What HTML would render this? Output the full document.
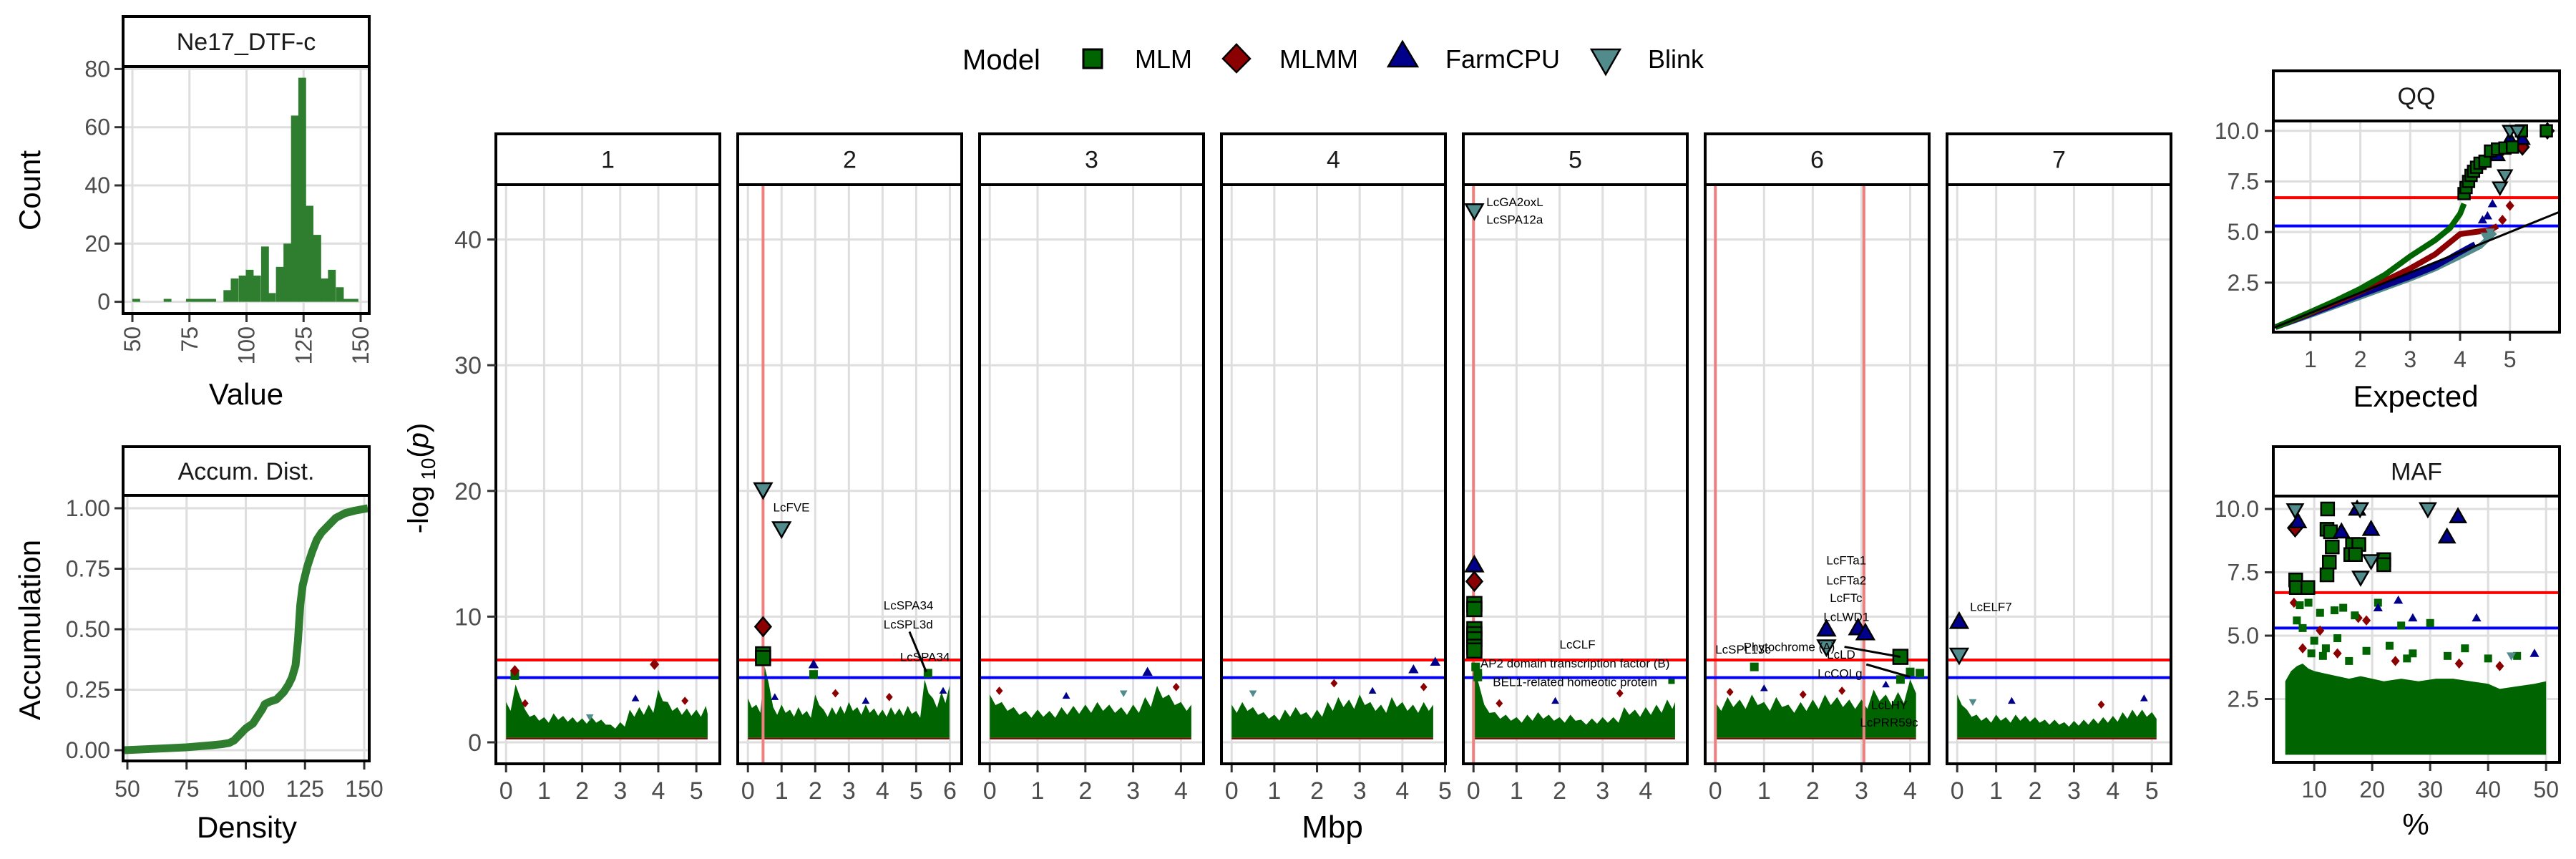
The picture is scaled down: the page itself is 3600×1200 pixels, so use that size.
<!DOCTYPE html>
<html><head><meta charset="utf-8">
<style>
html,body{margin:0;padding:0;background:#fff;}
svg{display:block;font-family:"Liberation Sans",Arial,sans-serif;}
</style></head>
<body>
<svg id="fig" xmlns="http://www.w3.org/2000/svg" width="3600" height="1200" viewBox="0 0 3600 1200">
<rect x="0" y="0" width="3600" height="1200" fill="#fff"/>
<g id="legend">
  <text x="1345" y="97" font-size="40" fill="#000">Model</text>
  <rect x="1514" y="69" width="26" height="26" fill="#006400" stroke="#000" stroke-width="3"/>
  <text x="1586" y="95" font-size="36" fill="#000">MLM</text>
  <polygon points="1728,62 1747,82 1728,101 1709,82" fill="#8B0000" stroke="#000" stroke-width="2.5"/>
  <text x="1788" y="95" font-size="36" fill="#000">MLMM</text>
  <polygon points="1960,58 1981,93 1940,93" fill="#00008B" stroke="#000" stroke-width="2.5"/>
  <text x="2020" y="95" font-size="36" fill="#000">FarmCPU</text>
  <polygon points="2224,69 2264,69 2244,104" fill="#528B8B" stroke="#000" stroke-width="2.5"/>
  <text x="2303" y="95" font-size="36" fill="#000">Blink</text>
</g>
</svg>
<script>
// ---------------- DATA ----------------
// Histogram
const histBinStarts = [50,63.7,73.5,76.75,80,83.25,89.9,93.1,96.6,99.7,102.9,106.4,109.4,112.9,116.2,119.5,122.7,125.9,129.3,132.5,135.7,139.2,142.3,145.6];
const histCounts    = [1,1,1,1,1,1,4,8,9,11,9,19,3,12,20,64,77,33,23,8,11,5,1,1];
const histBinWidth = 3.25;
const histYTicks = [0,20,40,60,80];
const histXTicks = [50,75,100,125,150];
// Accumulation
const accDensity = [48,60,75,85,90,93,95,98,100,103,105,107,108,110,113,116,118,119.5,121,122,123,124,126,128,130,132,135,138,142,146,152];
const accValues  = [0,0.005,0.012,0.02,0.025,0.03,0.04,0.07,0.09,0.11,0.14,0.17,0.19,0.2,0.21,0.24,0.27,0.3,0.35,0.45,0.6,0.68,0.76,0.82,0.87,0.9,0.93,0.96,0.98,0.99,1.0];
const accYTicks = ["0.00","0.25","0.50","0.75","1.00"];
const accXTicks = [50,75,100,125,150];
// Manhattan
const chromNames = ["1","2","3","4","5","6","7"];
const chromLen = [5.35,6.05,4.26,4.77,4.73,4.18,5.23];
const chromXTicks = [[0,1,2,3,4,5],[0,1,2,3,4,5,6],[0,1,2,3,4],[0,1,2,3,4,5],[0,1,2,3,4],[0,1,2,3,4],[0,1,2,3,4,5]];
const manYTicks = [0,10,20,30,40];
const thresholdBonf = 6.55;
const thresholdSugg = 5.15;
const qtnChr = [2,5,6,6];
const qtnPos = [0.45,0.0,0.0,3.05];
// band envelope (top of dense background cloud, every 0.25 Mbp)
const bandTop = [
 [3.2,4.6,2.6,2.2,2.0,2.3,2.1,2.0,1.9,2.0,1.8,1.4,1.6,2.6,2.8,3.0,4.2,3.2,2.8,2.7,2.6,2.9,3.6],
 [3.5,3.0,6.0,2.8,3.0,2.6,2.8,2.5,3.8,2.6,2.8,2.9,3.2,2.8,3.0,2.7,2.6,2.8,2.7,2.9,2.5,5.0,3.5,4.0,4.5],
 [3.8,3.2,2.8,2.5,2.6,2.5,2.8,2.9,3.0,3.2,3.0,2.8,3.0,3.6,4.5,3.8,3.2,3.0],
 [3.0,3.2,2.8,2.4,2.2,2.6,2.8,2.4,2.6,3.2,3.6,3.4,3.8,3.2,3.0,3.6,3.2,3.0,3.2,3.0],
 [6.0,3.0,2.4,2.2,2.0,2.2,2.4,2.2,2.0,2.2,1.8,1.9,2.0,2.0,2.8,2.6,2.8,3.0,3.4,3.2],
 [3.2,3.6,3.4,3.8,3.2,3.6,3.0,3.2,3.4,3.8,3.6,3.4,3.4,4.2,3.8,4.0,5.0],
 [3.8,2.6,2.2,2.0,2.2,2.0,2.2,2.1,2.0,1.8,1.8,1.6,1.7,1.8,1.9,2.0,2.1,2.4,2.6,2.6,2.4]
];
const bandBottom = 0.35;
// significant / highlighted markers per model
const mlmChr = [2,2,5,5,5,5,5,5,5,6,1,2,2,5,5,5,6,6,6,6];
const mlmPos = [0.45,0.45,0.02,0.02,0.02,0.02,0.02,0.02,0.02,3.8,0.23,1.95,5.35,0.05,0.1,0.1,0.8,3.8,4.0,4.2];
const mlmVal = [7.0,6.7,11.0,10.6,9.0,8.6,8.2,7.6,7.3,6.8,5.3,5.4,5.5,6.0,5.5,5.2,6.0,5.0,5.6,5.5];
const mlmmChr = [2,5,1,1];
const mlmmPos = [0.45,0.02,0.23,3.9];
const mlmmVal = [9.2,12.8,5.7,6.2];
const farmChr = [5,6,6,6,7,2,3,4,4];
const farmPos = [0.02,2.28,2.93,3.08,0.05,1.95,3.3,4.26,4.77];
const farmVal = [14.1,9.0,9.1,8.7,9.6,6.2,5.6,5.8,6.4];
const blinkChr = [2,2,5,6,7];
const blinkPos = [0.45,1.0,0.02,2.28,0.05];
const blinkVal = [20.1,17.0,42.3,7.6,6.95];
// background speckles (colored dots above the dense cloud)
const speckChr = [1,1,1,1,2,2,2,2,2,3,3,3,3,4,4,4,4,5,5,5,5,6,6,6,6,6,7,7,7,7];
const speckPos = [0.5,2.2,3.4,4.7,0.8,2.6,3.5,4.2,5.8,0.2,1.6,2.8,3.9,0.5,2.4,3.3,4.5,0.6,1.9,3.4,4.6,0.3,1.0,1.8,2.6,3.5,0.4,1.4,3.7,4.8];
const speckVal = [3.1,2.0,3.5,3.3,3.6,3.9,3.3,3.6,4.1,4.1,3.7,3.9,4.4,3.9,4.7,4.1,4.4,3.1,3.3,3.9,4.9,4.0,4.3,3.8,4.1,4.6,3.2,3.3,3.0,3.5];
const speckModel = ["mlmm","blink","farm","mlmm","farm","mlmm","farm","mlmm","farm","mlmm","farm","blink","mlmm","blink","mlmm","farm","mlmm","mlmm","farm","mlmm","mlm","mlmm","farm","mlmm","mlmm","farm","blink","farm","mlmm","farm"];
// gene annotations
const annText = ["LcFVE","LcSPA34","LcSPL3d","LcSPA34","LcGA2oxL","LcSPA12a","LcCLF","AP2 domain transcription factor (B)","BEL1-related homeotic protein","LcFTa1","LcFTa2","LcFTc","LcLWD1","LcSPL13c","Phytochrome (A)","LcLD","LcCOLg","LcLHY","LcPRR59c","LcELF7"];
const annChr  = [2,2,2,2,5,5,5,5,5,6,6,6,6,6,6,6,6,6,6,7];
const annPos  = [0.75,4.03,4.03,4.52,0.3,0.3,2.0,0.16,0.45,2.28,2.28,2.35,2.22,0.0,0.58,2.29,2.1,3.2,2.97,0.33];
const annVal  = [18.7,10.9,9.4,6.8,43.0,41.6,7.8,6.3,4.8,14.5,12.9,11.5,10.0,7.4,7.6,7.0,5.5,3.0,1.6,10.8];
// QQ
const qqMlmX = [0.3,1,1.5,2,2.5,3,3.5,3.8,4.0,4.08];
const qqMlmY = [0.3,1.05,1.6,2.2,2.9,3.8,4.6,5.2,5.9,6.4];
const qqMlmmX = [0.3,1,2,2.5,3,3.5,4,4.3,4.6,4.75];
const qqMlmmY = [0.3,1.0,2.05,2.6,3.2,3.9,4.9,5.0,5.1,5.3];
const qqFarmX = [0.3,1,2,3,3.5,4,4.3];
const qqFarmY = [0.3,0.95,1.9,2.8,3.3,4.0,4.4];
const qqBlinkX = [0.3,1,2,3,3.5,4,4.4,4.7];
const qqBlinkY = [0.3,0.9,1.8,2.7,3.2,3.8,4.3,5.0];
const qqMlmPtsX = [4.08,4.12,4.17,4.22,4.27,4.33,4.4,4.5,4.61,4.75,4.9,5.05,5.23,5.73];
const qqMlmPtsY = [6.9,7.2,7.5,7.8,8.0,8.2,8.4,8.5,9.0,9.1,9.15,9.2,10.0,10.0];
const qqMlmmPtsX = [4.85,5.0,5.25,5.75];
const qqMlmmPtsY = [5.6,6.3,9.2,10.0];
const qqFarmPtsX = [4.45,4.55,4.65,4.75,5.0,5.25];
const qqFarmPtsY = [5.6,5.8,6.4,8.8,9.6,9.6];
const qqBlinkPtsX = [4.5,4.6,4.8,4.9,5.0,5.15];
const qqBlinkPtsY = [4.8,5.0,7.2,7.8,10.0,10.0];
const qqYTicks = ["2.5","5.0","7.5","10.0"];
const qqXTicks = [1,2,3,4,5];
// MAF
const mafMlmX = [12.3,12.2,12.8,13.1,12.6,12.2,6.8,6.9,8.9,16.6,17.7,16.3,17.1,22,22,7.5,9,11,13.5,15,17,21,25,30,7,8,10,12,14,19,23,27,33,36,40,45,9.5,11.5,16,26];
const mafMlmY = [10,9.2,9.1,8.5,7.9,7.4,7.2,6.9,6.9,8.6,8.6,8.2,8.2,8.0,7.8,6.2,6.3,5.9,6.0,6.1,5.8,6.3,5.4,5.5,5.6,5.3,4.8,4.5,4.9,4.4,4.6,4.3,4.2,4.5,4.1,4.2,4.3,4.2,4.0,4.1];
const mafMlmmX = [6.7,17.6,19,6.5,11,8,14,24,35,42];
const mafMlmmY = [9.25,5.7,5.6,6.3,5.2,4.5,4.3,4.0,3.9,3.8];
const mafFarmX = [7.2,17.4,14.7,19.8,32.9,34.8,24.5,27,38,21,48];
const mafFarmY = [9.5,10,9.1,9.2,8.9,9.7,6.4,5.7,5.7,6.1,4.3];
const mafBlinkX = [6.7,17.9,19.8,18,29.6,44];
const mafBlinkY = [9.96,10,7.95,7.3,10,4.2];
const mafBandX = [5,6,7,8,9,10,12,14,16,18,20,22,25,28,31,34,37,40,42,45,48,50];
const mafBandTop = [3.2,3.6,3.8,3.9,3.7,3.6,3.5,3.4,3.3,3.4,3.3,3.2,3.3,3.2,3.3,3.3,3.2,3.1,2.9,3.0,3.1,3.2];
const mafYTicks = ["2.5","5.0","7.5","10.0"];
const mafXTicks = [10,20,30,40,50];

// ---------------- RENDER ----------------
const NS = "http://www.w3.org/2000/svg";
const svg = document.getElementById("fig");
function mk(tag, attrs, parent) {
  const el = document.createElementNS(NS, tag);
  for (const k in attrs) el.setAttribute(k, attrs[k]);
  (parent || svg).appendChild(el);
  return el;
}
const COL = {mlm:"#006400", mlmm:"#8B0000", farm:"#00008B", blink:"#528B8B"};
const GRID = "#DEDEDE", TICK = "#4D4D4D";

function marker(g, type, cx, cy, s, outline) {
  let el;
  const st = outline ? "#000" : "none";
  if (type === "mlm") el = mk("rect", {x:cx-s/2, y:cy-s/2, width:s, height:s, fill:COL.mlm, stroke:st, "stroke-width":2.5}, g);
  else if (type === "mlmm") el = mk("polygon", {points:`${cx},${cy-s*0.65} ${cx+s*0.55},${cy} ${cx},${cy+s*0.65} ${cx-s*0.55},${cy}`, fill:COL.mlmm, stroke:st, "stroke-width":2.5}, g);
  else if (type === "farm") el = mk("polygon", {points:`${cx},${cy-s*0.6} ${cx+s*0.6},${cy+s*0.45} ${cx-s*0.6},${cy+s*0.45}`, fill:COL.farm, stroke:st, "stroke-width":2.5}, g);
  else el = mk("polygon", {points:`${cx-s*0.6},${cy-s*0.45} ${cx+s*0.6},${cy-s*0.45} ${cx},${cy+s*0.6}`, fill:COL.blink, stroke:st, "stroke-width":2.5}, g);
  return el;
}

function panelFrame(name, x, y0, y1, y2, w, title) {
  const g = mk("g", {});
  
  
  const strip = mk("rect", {x:x, y:y0, width:w, height:y1-y0, fill:"#fff", stroke:"#000", "stroke-width":4}, g);
  
  
  const t = mk("text", {x:x+w/2, y:(y0+y1)/2+12, "font-size":34, "text-anchor":"middle", fill:"#1A1A1A"}, g);
  t.textContent = title;
  
  
  return g;
}
function border(g, name, x, y1, w, y2) {
  const b = mk("rect", {x:x, y:y1, width:w, height:y2-y1, fill:"none", stroke:"#000", "stroke-width":4}, g);
  
  
}

// ===== Histogram =====
(function(){
  const L=172, R=516, T=93, B=438;
  const xs = v => 185 + (v-50)*3.19;
  const ys = v => 421.6 - v*4.065;
  const g = panelFrame("histogram-panel", L, 23, T, B, R-L, "Ne17_DTF-c");
  histYTicks.forEach(t=>{
    const gl = mk("line",{x1:L,x2:R,y1:ys(t),y2:ys(t),stroke:GRID,"stroke-width":3},g);
    
    
    const tk = mk("line",{x1:L-12,x2:L,y1:ys(t),y2:ys(t),stroke:"#333","stroke-width":3},g);
    
    
    const lb = mk("text",{x:L-18,y:ys(t)+11,"font-size":32,"text-anchor":"end",fill:TICK},g);
    lb.textContent = t;
    
    
  });
  histXTicks.forEach(t=>{
    const gl = mk("line",{x1:xs(t),x2:xs(t),y1:T,y2:B,stroke:GRID,"stroke-width":3},g);
    
    
    const tk = mk("line",{x1:xs(t),x2:xs(t),y1:B,y2:B+12,stroke:"#333","stroke-width":3},g);
    
    
    const lb = mk("text",{x:0,y:0,"font-size":32,"text-anchor":"end",fill:TICK,transform:`translate(${xs(t)+11},${B+18}) rotate(-90)`},g);
    lb.textContent = t;
    
    
  });
  histBinStarts.forEach((s,i)=>{
    const h = histCounts[i];
    const r = mk("rect",{x:xs(s),y:ys(h),width:xs(s+histBinWidth)-xs(s)+0.5,height:ys(0)-ys(h),fill:"#2F7D2F"},g);
    
    
  });
  border(g,"histogram-panel",L,T,R-L,B);
  const xt = mk("text",{x:344,y:565,"font-size":42,"text-anchor":"middle",fill:"#000"},g);
  xt.textContent="Value";
  
  
  const yt = mk("text",{x:0,y:0,"font-size":42,"text-anchor":"middle",fill:"#000",transform:"translate(56,266) rotate(-90)"},g);
  yt.textContent="Count";
  
  
})();

// ===== Accumulation =====
(function(){
  const L=172, R=516, T=692, B=1063;
  const xs = v => 178 + (v-50)*3.31;
  const ys = v => 1048 - v*338;
  const g = panelFrame("accumulation-panel", L, 624, T, B, R-L, "Accum. Dist.");
  accYTicks.forEach(t=>{
    const v=parseFloat(t);
    const gl = mk("line",{x1:L,x2:R,y1:ys(v),y2:ys(v),stroke:GRID,"stroke-width":3},g);
    
    
    const tk = mk("line",{x1:L-12,x2:L,y1:ys(v),y2:ys(v),stroke:"#333","stroke-width":3},g);
    
    
    const lb = mk("text",{x:L-18,y:ys(v)+11,"font-size":32,"text-anchor":"end",fill:TICK},g);
    lb.textContent=t;
    
    
  });
  accXTicks.forEach(t=>{
    const gl = mk("line",{x1:xs(t),x2:xs(t),y1:T,y2:B,stroke:GRID,"stroke-width":3},g);
    
    
    const tk = mk("line",{x1:xs(t),x2:xs(t),y1:B,y2:B+12,stroke:"#333","stroke-width":3},g);
    
    
    const lb = mk("text",{x:xs(t),y:1113,"font-size":32,"text-anchor":"middle",fill:TICK},g);
    lb.textContent=t;
    
    
  });
  const pts = accDensity.map((d,i)=>`${Math.max(L+2,Math.min(R-2,xs(d)))},${ys(accValues[i])}`).join(" ");
  const pl = mk("polyline",{points:pts,fill:"none",stroke:"#2F7D2F","stroke-width":11,"stroke-linejoin":"round"},g);
  
  
  border(g,"accumulation-panel",L,T,R-L,B);
  const xt = mk("text",{x:345,y:1170,"font-size":42,"text-anchor":"middle",fill:"#000"},g);
  xt.textContent="Density";
  
  
  const yt = mk("text",{x:0,y:0,"font-size":42,"text-anchor":"middle",fill:"#000",transform:"translate(56,880) rotate(-90)"},g);
  yt.textContent="Accumulation";
  
  
})();

// ===== Manhattan =====
(function(){
  const T=258, B=1067, W=313, PITCH=338, L0=693;
  const ys = v => 1037 - v*17.56;
  const pl = i => L0 + i*PITCH;
  const xs = (c, p) => { const i=c-1; const sc=(W/1.1)/chromLen[i]; return pl(i) + 0.05*W/1.1 + p*sc; };
  const panels = [];
  chromNames.forEach((nm,i)=>{
    const g = panelFrame("chromosome-panel-"+nm, pl(i), 187, T, B, W, nm);
    panels.push(g);
    manYTicks.forEach(t=>{
      const gl = mk("line",{x1:pl(i),x2:pl(i)+W,y1:ys(t),y2:ys(t),stroke:GRID,"stroke-width":3},g);
      
      
    });
    chromXTicks[i].forEach(t=>{
      const x = xs(i+1,t);
      const gl = mk("line",{x1:x,x2:x,y1:T,y2:B,stroke:GRID,"stroke-width":3},g);
      
      
      const tk = mk("line",{x1:x,x2:x,y1:B,y2:B+12,stroke:"#333","stroke-width":3},g);
      
      
      const lb = mk("text",{x:x,y:1116,"font-size":34,"text-anchor":"middle",fill:TICK},g);
      lb.textContent=t;
      
      
    });
    const tops = bandTop[i];
    let pts = [];
    tops.forEach((v,k)=>{
      const p = Math.min(k*0.25, chromLen[i]*0.99);
      pts.push(`${xs(i+1,p)},${ys(v)}`);
      const p2 = Math.min(k*0.25+0.12, chromLen[i]*0.99);
      pts.push(`${xs(i+1,p2)},${ys(v*0.78)}`);
    });
    const lastP = Math.min((tops.length-1)*0.25+0.12, chromLen[i]*0.99);
    pts.push(`${xs(i+1,lastP)},${ys(bandBottom)}`);
    pts.push(`${xs(i+1,0)},${ys(bandBottom)}`);
    const band = mk("polygon",{points:pts.join(" "),fill:"#006400"},g);
    
    
    const base = mk("line",{x1:xs(i+1,0),x2:xs(i+1,lastP),y1:ys(bandBottom)+1,y2:ys(bandBottom)+1,stroke:"#8B0000","stroke-width":2},g);
    
    
  });
  qtnChr.forEach((c,k)=>{
    const x = xs(c,qtnPos[k]);
    const l = mk("line",{x1:x,x2:x,y1:T,y2:B,stroke:"#F08080","stroke-width":4},panels[c-1]);
    
    
  });
  speckChr.forEach((c,k)=>{
    const m = marker(panels[c-1], speckModel[k], xs(c,speckPos[k]), ys(speckVal[k]), 9, false);
    
    
  });
  panels.forEach((g,i)=>{
    const r = mk("line",{x1:pl(i),x2:pl(i)+W,y1:ys(thresholdBonf),y2:ys(thresholdBonf),stroke:"#FF0000","stroke-width":4},g);
    
    
    const b = mk("line",{x1:pl(i),x2:pl(i)+W,y1:ys(thresholdSugg),y2:ys(thresholdSugg),stroke:"#0000FF","stroke-width":4},g);
    
    
  });
  function drawSet(type, chr, pos, val) {
    chr.forEach((c,k)=>{
      const big = val[k] >= thresholdBonf;
      const m = marker(panels[c-1], type, xs(c,pos[k]), ys(val[k]), big ? 20 : 12, big);
      
      
    });
  }
  drawSet("mlm", mlmChr, mlmPos, mlmVal);
  drawSet("mlmm", mlmmChr, mlmmPos, mlmmVal);
  drawSet("farm", farmChr, farmPos, farmVal);
  drawSet("blink", blinkChr, blinkPos, blinkVal);
  const ll1 = mk("line",{x1:xs(2,4.8),y1:ys(8.8),x2:xs(2,5.3),y2:ys(5.6),stroke:"#000","stroke-width":3},panels[1]);
  
  
  const ll2 = mk("line",{x1:xs(6,2.65),y1:ys(7.6),x2:xs(6,3.8),y2:ys(6.8),stroke:"#000","stroke-width":3},panels[5]);
  
  
  const ll3 = mk("line",{x1:xs(6,3.1),y1:ys(6.2),x2:xs(6,4.0),y2:ys(5.2),stroke:"#000","stroke-width":3},panels[5]);
  
  
  annText.forEach((t,k)=>{
    const c = annChr[k];
    const a = mk("text",{x:xs(c,annPos[k]),y:ys(annVal[k])+6,"font-size":17,"text-anchor":"start",fill:"#000"},panels[c-1]);
    a.textContent=t;
    
    
  });
  panels.forEach((g,i)=>border(g,"chromosome-panel-"+chromNames[i],pl(i),T,W,B));
  const ax = mk("g",{});
  
  
  manYTicks.forEach(t=>{
    const tk = mk("line",{x1:L0-12,x2:L0,y1:ys(t),y2:ys(t),stroke:"#333","stroke-width":3},ax);
    
    
    const lb = mk("text",{x:L0-20,y:ys(t)+12,"font-size":34,"text-anchor":"end",fill:TICK},ax);
    lb.textContent=t;
    
    
  });
  const yt = mk("text",{x:0,y:0,"font-size":40,"text-anchor":"middle",fill:"#000",transform:"translate(598,668) rotate(-90)"},ax);
  yt.innerHTML = '-log<tspan font-size="28" dy="10"> 10</tspan><tspan dy="-10">(</tspan><tspan font-style="italic">p</tspan>)';
  
  
  const xt = mk("text",{x:1862,y:1170,"font-size":44,"text-anchor":"middle",fill:"#000"},ax);
  xt.textContent="Mbp";
  
  
})();

// ===== QQ =====
(function(){
  const L=3177, R=3577, T=169, B=464;
  const xs = v => 3228.9 + (v-1)*69.7;
  const ys = v => 182.8 + (10-v)*28.27;
  const g = panelFrame("qq-panel", L, 99, T, B, R-L, "QQ");
  qqYTicks.forEach(t=>{
    const v=parseFloat(t);
    const gl = mk("line",{x1:L,x2:R,y1:ys(v),y2:ys(v),stroke:GRID,"stroke-width":3},g);
    
    
    const tk = mk("line",{x1:L-12,x2:L,y1:ys(v),y2:ys(v),stroke:"#333","stroke-width":3},g);
    
    
    const lb = mk("text",{x:L-20,y:ys(v)+11,"font-size":32,"text-anchor":"end",fill:TICK},g);
    lb.textContent=t;
    
    
  });
  qqXTicks.forEach(t=>{
    const gl = mk("line",{x1:xs(t),x2:xs(t),y1:T,y2:B,stroke:GRID,"stroke-width":3},g);
    
    
    const tk = mk("line",{x1:xs(t),x2:xs(t),y1:B,y2:B+12,stroke:"#333","stroke-width":3},g);
    
    
    const lb = mk("text",{x:xs(t),y:513,"font-size":32,"text-anchor":"middle",fill:TICK},g);
    lb.textContent=t;
    
    
  });
  const red = mk("line",{x1:L,x2:R,y1:ys(6.7),y2:ys(6.7),stroke:"#FF0000","stroke-width":4},g);
  
  
  const blue = mk("line",{x1:L,x2:R,y1:ys(5.3),y2:ys(5.3),stroke:"#0000FF","stroke-width":4},g);
  
  
  function curve(xa, ya, col, nm){
    const p = mk("polyline",{points:xa.map((x,i)=>`${xs(x)},${ys(ya[i])}`).join(" "),fill:"none",stroke:col,"stroke-width":8,"stroke-linejoin":"round"},g);
    
    
  }
  curve(qqBlinkX,qqBlinkY,COL.blink,"qq-blink-curve");
  curve(qqFarmX,qqFarmY,COL.farm,"qq-farmcpu-curve");
  curve(qqMlmmX,qqMlmmY,COL.mlmm,"qq-mlmm-curve");
  curve(qqMlmX,qqMlmY,COL.mlm,"qq-mlm-curve");
  const diag = mk("line",{x1:xs(0.26),y1:ys(0.26),x2:xs(5.99),y2:ys(5.99),stroke:"#000","stroke-width":3},g);
  
  
  function pts(type, xa, ya){
    xa.forEach((x,i)=>{
      const big = ya[i] >= 6.7;
      const m = marker(g, type, xs(x), ys(ya[i]), big?16:11, big);
      
      
    });
  }
  pts("mlmm",qqMlmmPtsX,qqMlmmPtsY);
  pts("farm",qqFarmPtsX,qqFarmPtsY);
  pts("mlm",qqMlmPtsX,qqMlmPtsY);
  pts("blink",qqBlinkPtsX,qqBlinkPtsY);
  border(g,"qq-panel",L,T,R-L,B);
  const xt = mk("text",{x:3376,y:568,"font-size":42,"text-anchor":"middle",fill:"#000"},g);
  xt.textContent="Expected";
  
  
})();

// ===== MAF =====
(function(){
  const L=3177, R=3577, T=693, B=1065;
  const xs = v => 3234.2 + (v-10)*8.1;
  const ys = v => 711 + (10-v)*35.4;
  const g = panelFrame("maf-panel", L, 624, T, B, R-L, "MAF");
  mafYTicks.forEach(t=>{
    const v=parseFloat(t);
    const gl = mk("line",{x1:L,x2:R,y1:ys(v),y2:ys(v),stroke:GRID,"stroke-width":3},g);
    
    
    const tk = mk("line",{x1:L-12,x2:L,y1:ys(v),y2:ys(v),stroke:"#333","stroke-width":3},g);
    
    
    const lb = mk("text",{x:L-20,y:ys(v)+11,"font-size":32,"text-anchor":"end",fill:TICK},g);
    lb.textContent=t;
    
    
  });
  mafXTicks.forEach(t=>{
    const gl = mk("line",{x1:xs(t),x2:xs(t),y1:T,y2:B,stroke:GRID,"stroke-width":3},g);
    
    
    const tk = mk("line",{x1:xs(t),x2:xs(t),y1:B,y2:B+12,stroke:"#333","stroke-width":3},g);
    
    
    const lb = mk("text",{x:xs(t),y:1114,"font-size":32,"text-anchor":"middle",fill:TICK},g);
    lb.textContent=t;
    
    
  });
  let bp = mafBandX.map((x,i)=>`${xs(x)},${ys(mafBandTop[i])}`);
  bp.push(`${xs(50)},${ys(0.3)}`); bp.push(`${xs(5)},${ys(0.3)}`);
  const band = mk("polygon",{points:bp.join(" "),fill:"#006400"},g);
  
  
  const red = mk("line",{x1:L,x2:R,y1:ys(6.7),y2:ys(6.7),stroke:"#FF0000","stroke-width":4},g);
  
  
  const blue = mk("line",{x1:L,x2:R,y1:ys(5.3),y2:ys(5.3),stroke:"#0000FF","stroke-width":4},g);
  
  
  function pts(type, xa, ya){
    xa.forEach((x,i)=>{
      const big = ya[i] >= 6.7;
      const m = marker(g, type, xs(x), ys(ya[i]), big?18:11, big);
      
      
    });
  }
  pts("mlmm",mafMlmmX,mafMlmmY);
  pts("mlm",mafMlmX,mafMlmY);
  pts("farm",mafFarmX,mafFarmY);
  pts("blink",mafBlinkX,mafBlinkY);
  border(g,"maf-panel",L,T,R-L,B);
  const xt = mk("text",{x:3376,y:1166,"font-size":42,"text-anchor":"middle",fill:"#000"},g);
  xt.textContent="%";
  
  
})();
</script>
</body></html>
